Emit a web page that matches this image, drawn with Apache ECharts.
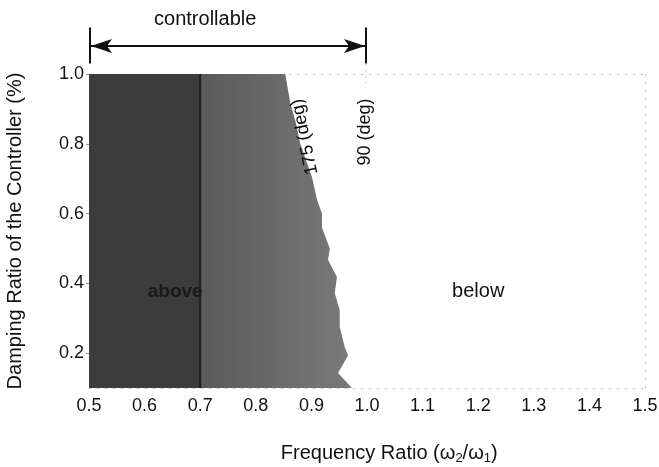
<!DOCTYPE html>
<html><head><meta charset="utf-8">
<script src="https://cdn.jsdelivr.net/npm/echarts@6/dist/echarts.min.js"></script>
<style>html,body{margin:0;padding:0;background:#fff}#c{width:659px;height:467px}</style>
</head><body><div id="c"></div>
<script>
// ---- data ----
const xTickValues = [0.5, 0.6, 0.7, 0.8, 0.9, 1.0, 1.1, 1.2, 1.3, 1.4, 1.5];
const yTickValues = [0.2, 0.4, 0.6, 0.8, 1.0];
// boundary of the controllable ("above") region, top to bottom
const boundaryFreq = [0.853, 0.862, 0.872, 0.880, 0.901, 0.910, 0.919, 0.919, 0.933, 0.930, 0.946, 0.942, 0.951, 0.951, 0.960, 0.966, 0.948, 0.973];
const boundaryDamp = [1.00, 0.917, 0.86, 0.80, 0.705, 0.640, 0.600, 0.560, 0.500, 0.467, 0.418, 0.372, 0.323, 0.275, 0.217, 0.194, 0.143, 0.100];
const splitFreq = [0.7];          // darker strip boundary
const controllableRange = [0.5, 1.0];

const FONT = '"Liberation Sans", Arial, sans-serif';
const chart = echarts.init(document.getElementById('c'), null, {renderer: 'canvas'});

const dotted = {color: '#c4c4c4', width: 1, type: [2, 6]};
const option = {
  animation: false,
  backgroundColor: '#fff',
  grid: {left: 89, right: 14, top: 74, bottom: 79, containLabel: false, outerBoundsMode: 'none'},
  xAxis: [{
    type: 'value', min: 0.5, max: 1.5, interval: 0.1,
    axisLine: {show: true, lineStyle: dotted},
    axisTick: {show: false}, splitLine: {show: false},
    axisLabel: {color: '#111', fontSize: 18, fontFamily: FONT, margin: 9,
      customValues: xTickValues, formatter: v => v.toFixed(1)}
  }, {
    type: 'value', position: 'top', min: 0.5, max: 1.5,
    axisLine: {show: true, lineStyle: dotted},
    axisTick: {show: false}, splitLine: {show: false}, axisLabel: {show: false}
  }],
  yAxis: [{
    type: 'value', min: 0.1, max: 1.0,
    axisLine: {show: false}, splitLine: {show: false},
    axisTick: {show: true, length: 3, customValues: yTickValues, lineStyle: {color: '#999'}},
    axisLabel: {color: '#111', fontSize: 18, fontFamily: FONT, margin: 5,
      customValues: yTickValues, formatter: v => v.toFixed(1)},
    name: 'Damping Ratio of the Controller (%)', nameLocation: 'middle', nameGap: 64,
    nameTextStyle: {color: '#111', fontSize: 20, fontFamily: FONT}
  }, {
    type: 'value', position: 'right', min: 0.1, max: 1.0,
    axisLine: {show: true, lineStyle: dotted},
    axisTick: {show: false}, splitLine: {show: false}, axisLabel: {show: false}
  }],
  series: [{
    type: 'custom',
    coordinateSystem: 'cartesian2d',
    data: [[0.5, 0.1]],
    renderItem: function (params, api) {
      const yTop = 1.0, yBot = 0.1, x0 = 0.5, xs = splitFreq[0];
      const leftPts = [api.coord([x0, yTop]), api.coord([xs, yTop]), api.coord([xs, yBot]), api.coord([x0, yBot])];
      const rightPts = [api.coord([xs, yTop])];
      for (let i = 0; i < boundaryFreq.length; i++) rightPts.push(api.coord([boundaryFreq[i], boundaryDamp[i]]));
      rightPts.push(api.coord([xs, yBot]));
      const a = api.coord([xs, yTop]), b = api.coord([xs, yBot]);
      return {type: 'group', children: [
        {type: 'polygon', shape: {points: leftPts}, style: {fill: '#3c3c3c'}},
        {type: 'polygon', shape: {points: rightPts}, style: {fill: {
          type: 'linear', x: 0, y: 0, x2: 1, y2: 0,
          colorStops: [{offset: 0, color: '#5a5a5a'}, {offset: 1, color: '#7a7a7a'}]}}},
        {type: 'line', shape: {x1: a[0], y1: a[1], x2: b[0], y2: b[1]}, style: {stroke: '#1e1e1e', lineWidth: 2}}
      ]};
    },
    silent: true
  }]
};
chart.setOption(option);

// ---- annotations, anchored in data space ----
const P = (x, y) => chart.convertToPixel({gridIndex: 0}, [x, y]);
const L = P(controllableRange[0], 1.08), R = P(controllableRange[1], 1.08);
const barTopL = P(controllableRange[0], 1.133), barBotL = P(controllableRange[0], 1.03);
const barTopR = P(controllableRange[1], 1.133), barBotR = P(controllableRange[1], 1.03);
const dotBot = P(controllableRange[1], 0.96);
const ah = 21, aw = 7, an = 5;
const ctl = P(0.709, 1.155);
const above = P(0.655, 0.377), below = P(1.2, 0.377);
const d90 = P(0.996, 0.834), d175 = P(0.888, 0.82);
const xt = P(1.04, -0.088);
const txt = (pos, text, extra) => ({type: 'text', x: pos[0], y: pos[1], z: 100,
  style: Object.assign({text: text, fill: '#111', font: '18px ' + FONT, align: 'center', verticalAlign: 'middle'}, extra || {})});
const g = (o) => Object.assign({z: 100}, o);
chart.setOption({graphic: [
  g({type: 'line', shape: {x1: L[0] + 2, y1: L[1], x2: R[0] - 2, y2: R[1]}, style: {stroke: '#111', lineWidth: 2}}),
  g({type: 'line', shape: {x1: barTopL[0] + 1, y1: barTopL[1], x2: barBotL[0] + 1, y2: barBotL[1]}, style: {stroke: '#111', lineWidth: 2}}),
  g({type: 'line', shape: {x1: barTopR[0] - 1, y1: barTopR[1], x2: barBotR[0] - 1, y2: barBotR[1]}, style: {stroke: '#111', lineWidth: 2}}),
  g({type: 'line', shape: {x1: barBotR[0] - 1, y1: barBotR[1], x2: dotBot[0] - 1, y2: dotBot[1]}, style: {stroke: '#bbb', lineWidth: 1, lineDash: [2, 4]}}),
  g({type: 'polygon', shape: {points: [[L[0] + 2, L[1]], [L[0] + 2 + ah, L[1] - aw], [L[0] + 2 + ah - an, L[1]], [L[0] + 2 + ah, L[1] + aw]]}, style: {fill: '#111'}}),
  g({type: 'polygon', shape: {points: [[R[0] - 2, R[1]], [R[0] - 2 - ah, R[1] - aw], [R[0] - 2 - ah + an, R[1]], [R[0] - 2 - ah, R[1] + aw]]}, style: {fill: '#111'}}),
  txt(ctl, 'controllable', {font: '20px ' + FONT}),
  txt(above, 'above', {fill: '#1a1a1a', font: 'bold 19px ' + FONT}),
  txt(below, 'below', {font: '20px ' + FONT}),
  Object.assign(txt(d90, '90 (deg)'), {rotation: Math.PI / 2}),
  Object.assign(txt(d175, '175 (deg)', {fill: '#0a0a0a'}), {rotation: 1.78}),
  g({type: 'text', x: xt[0], y: xt[1], style: {
    text: 'Frequency Ratio (ω{s|2}/ω{s|1})', fill: '#111', font: '20px ' + FONT,
    align: 'center', verticalAlign: 'middle',
    rich: {s: {fontSize: 13, fontFamily: FONT, fill: '#111', padding: [10, 0, 0, 0]}}}})
]});
</script>
</body></html>
